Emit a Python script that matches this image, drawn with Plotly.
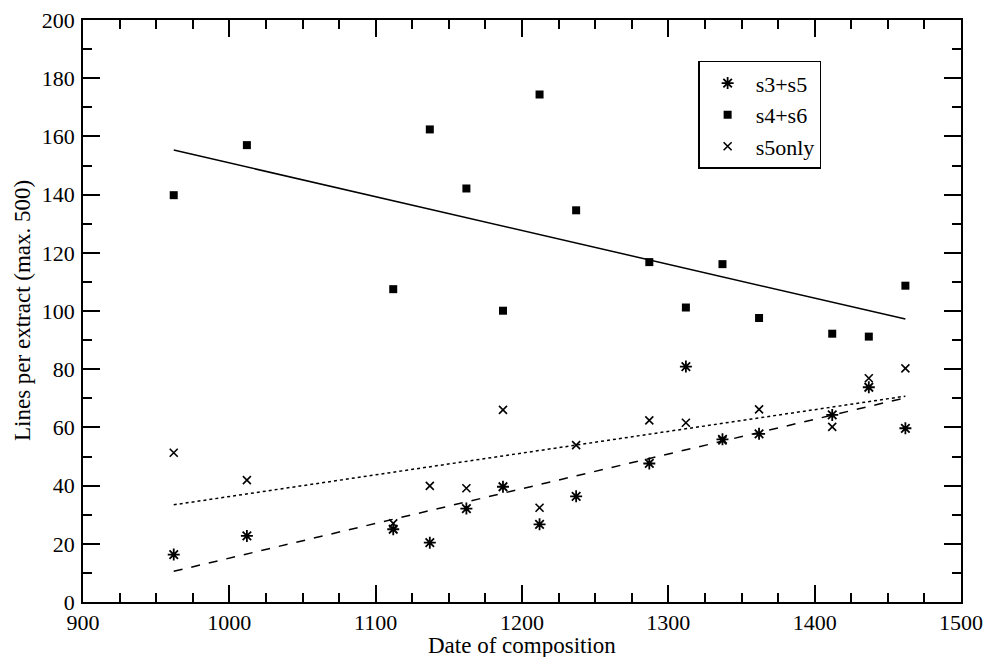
import numpy as np
import plotly.graph_objects as go

# ---- data ----
years = [962, 1012, 1112, 1137, 1162, 1187, 1212, 1237, 1287, 1312, 1337, 1362, 1412, 1437, 1462]
s3_s5 = [16.3, 22.7, 25.0, 20.4, 32.1, 39.6, 26.7, 36.3, 47.6, 80.9, 55.9, 57.8, 64.3, 73.8, 59.7]
s4_s6 = [139.8, 157.0, 107.5, 162.4, 142.1, 100.1, 174.4, 134.6, 116.8, 101.2, 116.1, 97.6, 92.2, 91.2, 108.7]
s5only = [51.3, 41.9, 27.0, 39.9, 39.1, 66.0, 32.4, 53.9, 62.4, 61.6, 55.5, 66.2, 60.2, 76.9, 80.3]
series_names = ["s3+s5", "s4+s6", "s5only"]
x_title = "Date of composition"
y_title = "Lines per extract (max. 500)"

FONT = "Liberation Serif, Times New Roman, serif"

fig = go.Figure()

x = np.array(years, dtype=float)


def fit_line(yvals):
    m, b = np.polyfit(x, np.array(yvals, dtype=float), 1)
    xs = np.array([x.min(), x.max()])
    return xs, m * xs + b


# regression lines
for yv, dash in [(s4_s6, "solid"), (s3_s5, "dash"), (s5only, "dot")]:
    xs, ys = fit_line(yv)
    fig.add_trace(go.Scatter(x=xs, y=ys, mode="lines", showlegend=False,
                             line=dict(color="black", width=1.5, dash=dash),
                             hoverinfo="skip"))

fig.add_trace(go.Scatter(x=years, y=s3_s5, mode="markers", name=series_names[0],
                         marker=dict(symbol="asterisk-open", size=10, color="black",
                                     line=dict(color="black", width=1.8))))
fig.add_trace(go.Scatter(x=years, y=s4_s6, mode="markers", name=series_names[1],
                         marker=dict(symbol="square", size=8, color="black")))
fig.add_trace(go.Scatter(x=years, y=s5only, mode="markers", name=series_names[2],
                         marker=dict(symbol="x-thin-open", size=8, color="black",
                                     line=dict(color="black", width=1.6))))

axis_common = dict(
    showgrid=False, zeroline=False, showline=True, linecolor="black", linewidth=1.5,
    mirror="ticks", ticks="inside", ticklen=17, tickwidth=1.5, tickcolor="black",
    tickfont=dict(family=FONT, size=22, color="black"), automargin=False,
    ticklabeloverflow="allow",
)

fig.update_xaxes(range=[900, 1500], dtick=100, tick0=900,
                 minor=dict(dtick=25, ticklen=9, tickwidth=1.5, tickcolor="black", ticks="inside"),
                 **axis_common)
fig.update_yaxes(range=[0, 200], dtick=20, tick0=0, ticklabelstandoff=2,
                 minor=dict(dtick=10, ticklen=9, tickwidth=1.5, tickcolor="black", ticks="inside"),
                 **axis_common)

fig.add_annotation(text=x_title, xref="paper", yref="paper", x=0.5, y=0, yshift=-43,
                   xanchor="center", yanchor="middle", showarrow=False,
                   font=dict(family=FONT, size=23, color="black"))
fig.add_annotation(text=y_title, xref="paper", yref="paper", x=0, y=0.5, xshift=-61,
                   xanchor="center", yanchor="middle", textangle=-90, showarrow=False,
                   font=dict(family=FONT, size=23, color="black"))

fig.update_layout(
    width=987, height=657,
    margin=dict(l=83, r=26, t=20, b=55),
    plot_bgcolor="white", paper_bgcolor="white",
    font=dict(family=FONT, color="black"),
    legend=dict(x=0.7006, y=0.93, xanchor="left", yanchor="top",
                bordercolor="black", borderwidth=1.5, bgcolor="white",
                font=dict(family=FONT, size=22, color="black"),
                tracegroupgap=0, itemwidth=46),
    showlegend=True,
)

# remove the default page margin so the figure sits at the window's top-left corner
fig.write_html("out.html", config={"displayModeBar": False},
               post_script="document.body.style.margin='0px';")
